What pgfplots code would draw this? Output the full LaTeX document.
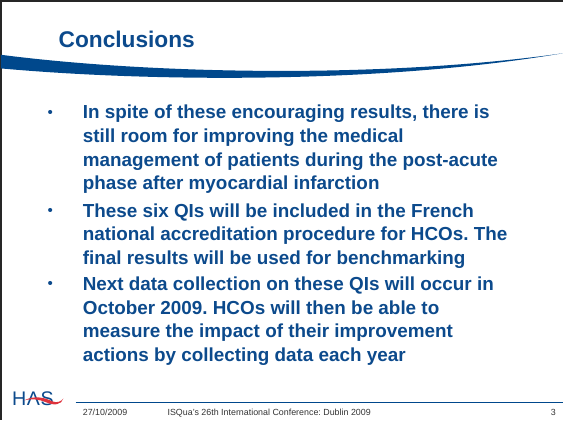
\documentclass[border=0pt]{standalone}
\usepackage{pgfplots}
\pgfplotsset{compat=1.18}
\usepackage{fontspec}
\setmainfont{Liberation Sans}
\frenchspacing
\definecolor{hasblue}{RGB}{12,74,140}
\definecolor{swoosh}{RGB}{0,72,140}
\definecolor{hasred}{RGB}{222,50,60}
\begin{document}
\begin{tikzpicture}
\begin{axis}[
  width=564pt, height=428pt, scale only axis,
  xmin=0, xmax=564, ymin=0, ymax=428, y dir=reverse,
  axis lines=none, ticks=none, clip=false,
]
% slide frame
\addplot[black!85, line width=2.2pt] coordinates {(7.2,428) (7.2,13.3) (564,13.3)};
% swoosh under title
\fill[swoosh] (axis cs:7,66.5) .. controls (axis cs:150,85) and (axis cs:380,91) .. (axis cs:564,65)
  .. controls (axis cs:380,96) and (axis cs:150,93) .. (axis cs:7,80) -- cycle;
% title
\node[anchor=base west, inner sep=0pt, text=hasblue, font=\fontsize{22.5}{26}\selectfont\bfseries] at (axis cs:64,59) {Conclusions};
% bullets
\tikzset{bu/.style={anchor=center, inner sep=0pt, text=hasblue, font=\fontsize{15}{18}\selectfont}}
\node[bu] at (axis cs:56,125) {•};
\node[bu] at (axis cs:56,222.5) {•};
\node[bu] at (axis cs:56,295) {•};
\tikzset{bl/.style={anchor=base west, inner sep=0pt, text=hasblue, font=\fontsize{18.7}{22}\selectfont\bfseries}}
\node[bl] at (axis cs:88,130) {In spite of these encouraging results, there is};
\node[bl] at (axis cs:88,153.5) {still room for improving the medical};
\node[bl] at (axis cs:88,177) {management of patients during the post-acute};
\node[bl] at (axis cs:88,200.5) {phase after myocardial infarction};
\node[bl] at (axis cs:88,227.5) {These six QIs will be included in the French};
\node[bl] at (axis cs:88,251) {national accreditation procedure for HCOs. The};
\node[bl] at (axis cs:88,274.5) {final results will be used for benchmarking};
\node[bl] at (axis cs:88,300) {Next data collection on these QIs will occur in};
\node[bl] at (axis cs:88,323.5) {October 2009. HCOs will then be able to};
\node[bl] at (axis cs:88,347) {measure the impact of their improvement};
\node[bl] at (axis cs:88,370.5) {actions by collecting data each year};
% footer line
\addplot[swoosh, line width=1pt] coordinates {(81,411.5) (564,411.5)};
% HAS logo
\node[anchor=base west, inner sep=0pt, text=hasblue, font=\fontsize{19.5}{20}\selectfont] at (axis cs:18,414) {H\kern0.5pt Λ\kern0.5pt S};
\fill[hasred] (axis cs:30,409) .. controls (axis cs:40,404) and (axis cs:50,406) .. (axis cs:58,410)
  .. controls (axis cs:63,412) and (axis cs:67,410) .. (axis cs:69,407)
  .. controls (axis cs:67,413.5) and (axis cs:60,414.5) .. (axis cs:52,411)
  .. controls (axis cs:45,408) and (axis cs:38,407) .. (axis cs:30,409) -- cycle;
% footer texts
\tikzset{ft/.style={anchor=base west, inner sep=0pt, text=black!80, font=\fontsize{8.8}{10}\selectfont}}
\node[ft] at (axis cs:88,424) {27/10/2009};
\node[ft] at (axis cs:172,424) {ISQua's 26th International Conference: Dublin 2009};
\node[ft] at (axis cs:552,424) {3};
\end{axis}
\end{tikzpicture}
\end{document}
